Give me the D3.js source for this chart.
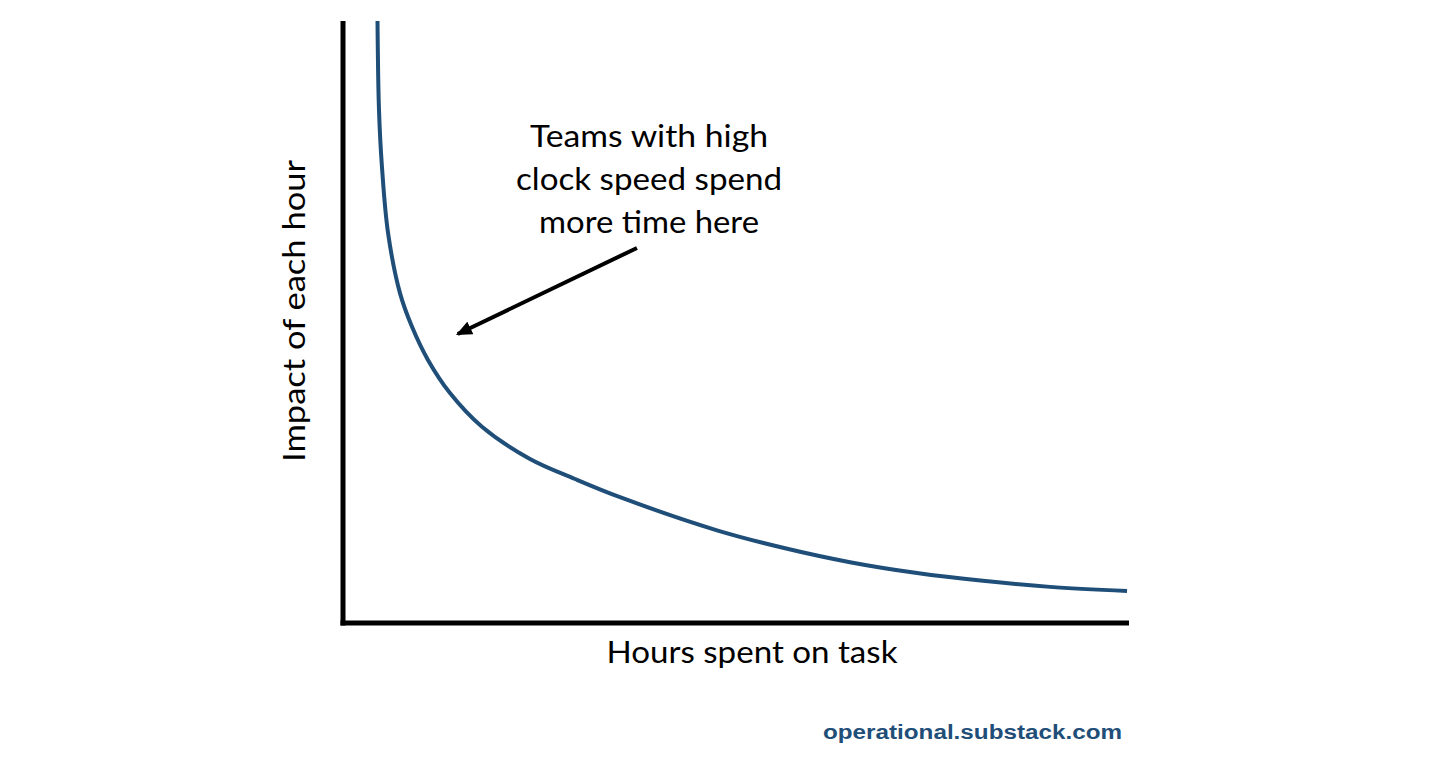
<!DOCTYPE html>
<html>
<head>
<meta charset="utf-8">
<script src="https://cdn.jsdelivr.net/npm/d3@7"></script>
<style>
  html, body { margin: 0; padding: 0; background: #fff; }
  svg { display: block; }
</style>
</head>
<body>
<div id="chart"></div>
<script>
// curve (hours 0-100, impact 0-100)
var hours  = [4.39, 4.58, 4.96, 5.73, 7.25, 8.78, 10.81, 13.61, 17.68, 23.79, 29.52, 35.24, 47.58, 55.98, 64.50, 73.03, 81.42, 89.95, 99.75];
var impact = [100, 85.2, 75.7, 64.8, 54.8, 49.2, 43.7, 38.2, 32.6, 27.24, 23.92, 20.9, 15.4, 12.5, 10.1, 8.3, 7.0, 6.0, 5.3];

var noteLines = ["Teams with high", "clock speed spend", "more time here"];
var noteWidths = [238, 266, 220];
var arrowFrom = [37.4, 62.3];
var arrowTo = [14.6, 48.0];
var xTitle = "Hours spent on task";
var yTitle = "Impact of each hour";
var credit = "operational.substack.com";

var W = 1434, H = 758;
var plotLeft = 343, plotRight = 1129, plotTop = 21, plotBottom = 623;
var labelFont = "Lato, 'Open Sans', sans-serif";

var svg = d3.select("#chart").append("svg")
    .attr("width", W)
    .attr("height", H);

var x = d3.scaleLinear().domain([0, 100]).range([plotLeft, plotRight]);
var y = d3.scaleLinear().domain([0, 100]).range([plotBottom, plotTop]);

// axes - plain lines, no ticks
svg.append("line")
    .attr("x1", x(0)).attr("x2", x(0))
    .attr("y1", y(100)).attr("y2", y(0) + 2.5)
    .attr("stroke", "#000").attr("stroke-width", 5);
svg.append("line")
    .attr("x1", x(0) - 2.5).attr("x2", x(100))
    .attr("y1", y(0)).attr("y2", y(0))
    .attr("stroke", "#000").attr("stroke-width", 5);

// the curve
var pts = hours.map(function (h, i) { return [h, impact[i]]; });
var line = d3.line()
    .x(function (d) { return x(d[0]); })
    .y(function (d) { return y(d[1]); })
    .curve(d3.curveCatmullRom.alpha(0.5));

svg.append("path")
    .datum(pts)
    .attr("d", line)
    .attr("fill", "none")
    .attr("stroke", "#1f4e79")
    .attr("stroke-width", 4);

// arrow
svg.append("defs").append("marker")
    .attr("id", "head")
    .attr("markerUnits", "userSpaceOnUse")
    .attr("viewBox", "0 -7 16 14")
    .attr("refX", 14)
    .attr("refY", 0)
    .attr("markerWidth", 16)
    .attr("markerHeight", 14)
    .attr("orient", "auto")
    .append("path")
    .attr("d", "M0,-7L16,0L0,7Z")
    .attr("fill", "#000");

svg.append("line")
    .attr("x1", x(arrowFrom[0])).attr("y1", y(arrowFrom[1]))
    .attr("x2", x(arrowTo[0])).attr("y2", y(arrowTo[1]))
    .attr("stroke", "#000")
    .attr("stroke-width", 4)
    .attr("marker-end", "url(#head)");

// annotation text
svg.append("g").selectAll("text")
    .data(noteLines)
    .enter()
    .append("text")
    .attr("x", 649)
    .attr("y", function (d, i) { return 147 + i * 43; })
    .attr("text-anchor", "middle")
    .attr("textLength", function (d, i) { return noteWidths[i]; })
    .attr("lengthAdjust", "spacingAndGlyphs")
    .style("font-family", labelFont)
    .style("font-size", "30px")
    .style("fill", "#000")
    .text(function (d) { return d; });

// axis titles
svg.append("text")
    .attr("x", 752)
    .attr("y", 663)
    .attr("text-anchor", "middle")
    .attr("textLength", 291)
    .attr("lengthAdjust", "spacingAndGlyphs")
    .style("font-family", labelFont)
    .style("font-size", "30px")
    .text(xTitle);

svg.append("text")
    .attr("transform", "translate(305,311) rotate(-90)")
    .attr("text-anchor", "middle")
    .attr("textLength", 302)
    .attr("lengthAdjust", "spacingAndGlyphs")
    .style("font-family", labelFont)
    .style("font-size", "30px")
    .text(yTitle);

// credit
svg.append("text")
    .attr("x", 1122)
    .attr("y", 739)
    .attr("text-anchor", "end")
    .attr("textLength", 299)
    .attr("lengthAdjust", "spacingAndGlyphs")
    .style("font-family", "'Liberation Sans', Arial, sans-serif")
    .style("font-weight", "bold")
    .style("font-size", "20px")
    .style("fill", "#1f4e79")
    .text(credit);
</script>
</body>
</html>
